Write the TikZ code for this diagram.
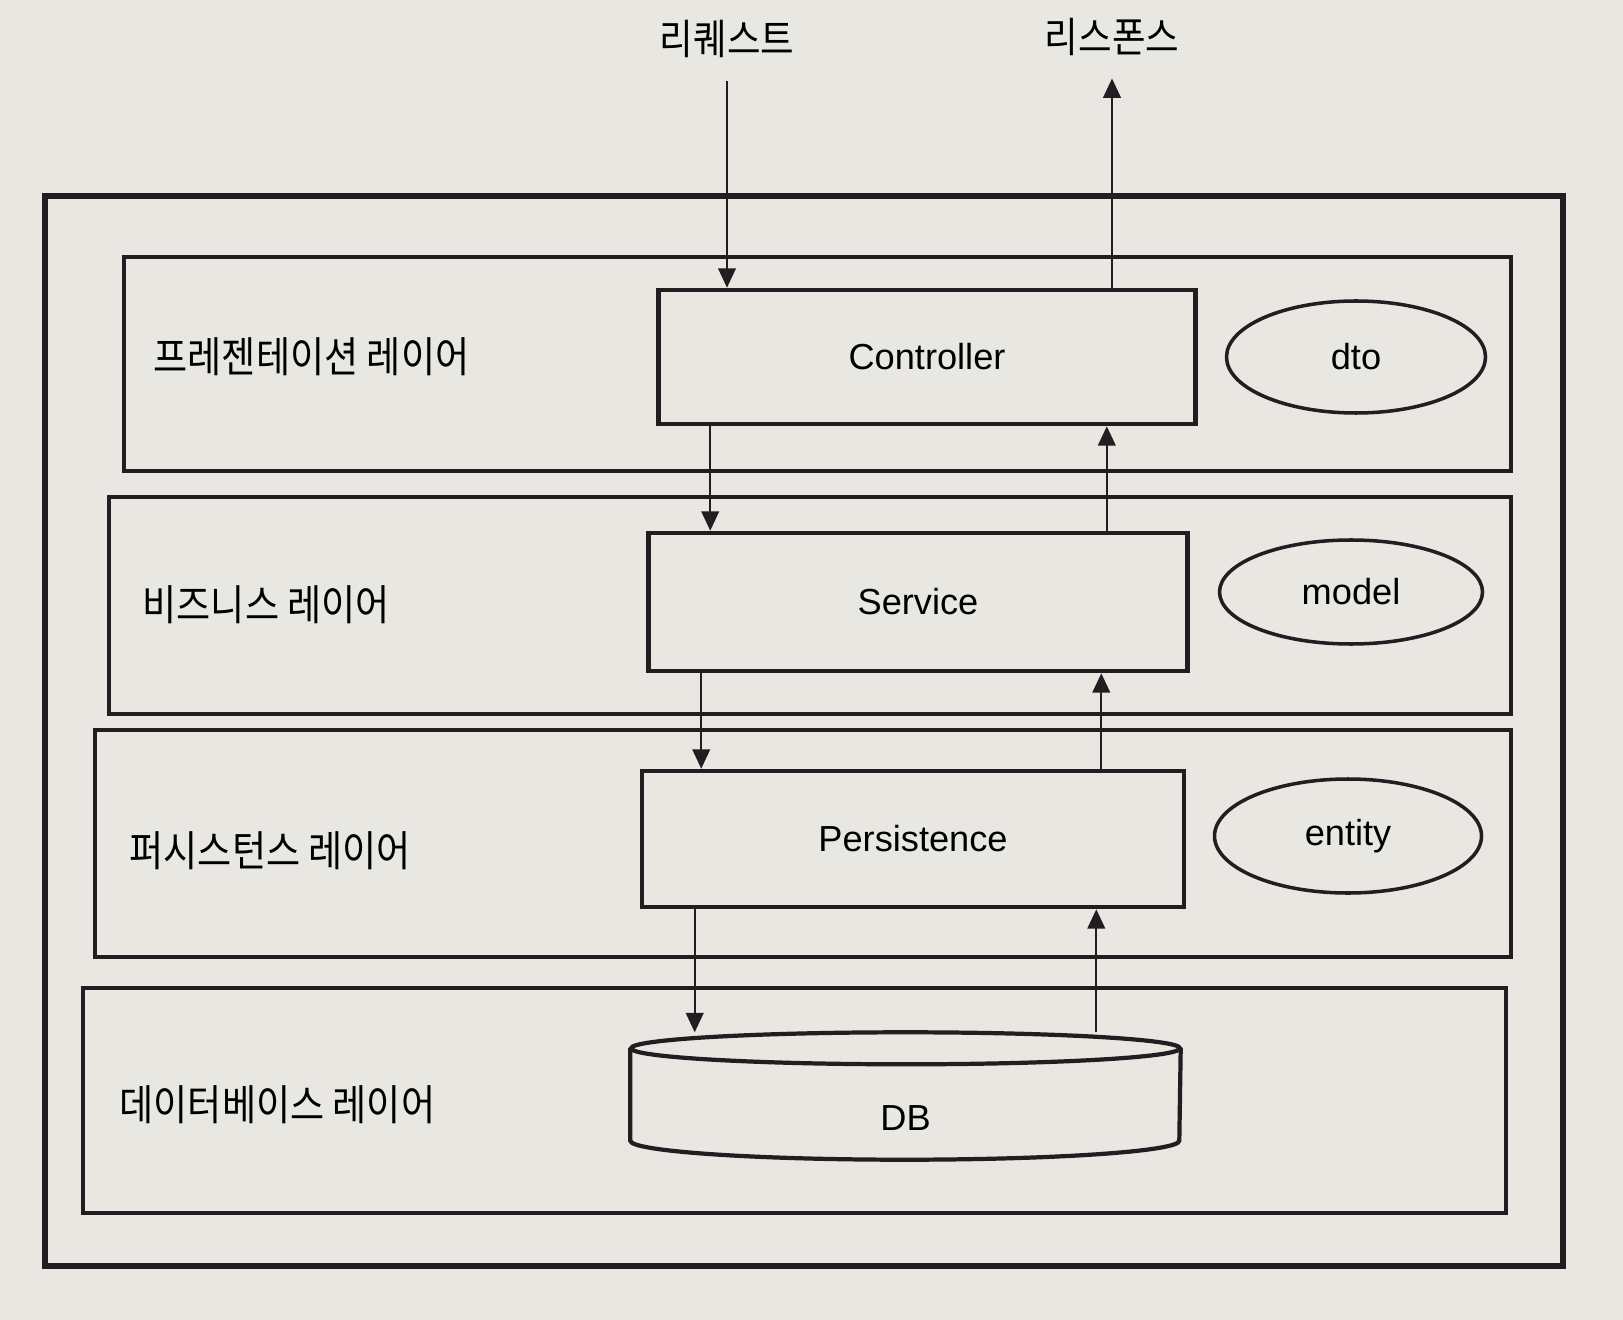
\documentclass[tikz,border=0pt]{standalone}
\usepackage{fontspec}
\setmainfont{Liberation Sans}
\newfontfamily\kr[FakeStretch=0.88]{Noto Sans CJK KR}
\usetikzlibrary{arrows.meta, shapes.geometric}
\definecolor{paper}{RGB}{233,231,226}
\definecolor{ink}{RGB}{32,30,32}

\begin{document}
\begin{tikzpicture}[>={Triangle[length=5.5pt,width=5pt]},
                    layer/.style={draw=ink, line width=1.1pt, inner sep=0pt},
                    comp/.style={draw=ink, line width=1.3pt, inner sep=0pt,
                                 font=\fontsize{10.3}{12}\selectfont},
                    data/.style={ellipse, draw=ink, line width=1pt, inner sep=0pt,
                                 font=\fontsize{10.3}{12}\selectfont},
                    lbl/.style={anchor=west, inner sep=0pt, font=\kr\fontsize{12}{14}\selectfont},
                    io/.style={inner sep=0pt, font=\kr\fontsize{11.8}{14}\selectfont},
                    arr/.style={->, draw=ink, line width=0.6pt}]
                \fill[paper] (0,0) rectangle (16.23,-13.20);
                \useasboundingbox (0,0) rectangle (16.23,-13.20);

                % frame and layers
                \node[layer, line width=1.5pt, minimum width=15.18cm, minimum height=10.70cm] (frame) at (8.04,-7.31) {};
                \node[layer, minimum width=13.87cm, minimum height=2.14cm] (pres) at (8.175,-3.64) {};
                \node[layer, minimum width=14.02cm, minimum height=2.17cm] (biz) at (8.10,-6.055) {};
                \node[layer, minimum width=14.16cm, minimum height=2.27cm] (persLayer) at (8.03,-8.435) {};
                \node[layer, minimum width=14.23cm, minimum height=2.25cm] (dbLayer) at (7.945,-11.005) {};

                \node[lbl] (presLbl) at (1.53,-3.57) {프레젠테이션 레이어};
                \node[lbl] (bizLbl) at (1.42,-6.05) {비즈니스 레이어};
                \node[lbl] (persLbl) at (1.29,-8.51) {퍼시스턴스 레이어};
                \node[lbl] (dbLayerLbl) at (1.19,-11.05) {데이터베이스 레이어};

                % components
                \node[comp, minimum width=5.37cm, minimum height=1.34cm] (ctrl) at (9.27,-3.57) {Controller};
                \node[comp, minimum width=5.39cm, minimum height=1.38cm] (svc) at (9.18,-6.02) {Service};
                \node[comp, minimum width=5.42cm, minimum height=1.36cm] (pers) at (9.13,-8.39) {Persistence};

                \node[data, minimum width=2.59cm, minimum height=1.12cm] (dto) at (13.56,-3.57) {dto};
                \node[data, minimum width=2.63cm, minimum height=1.04cm] (model) at (13.51,-5.92) {model};
                \node[data, minimum width=2.67cm, minimum height=1.14cm] (entity) at (13.48,-8.36) {entity};

                % database cylinder
                \node[inner sep=0pt, minimum width=5.49cm, minimum height=1.26cm] (db) at (9.055,-10.96) {};
                \node[inner sep=0pt, font=\fontsize{10.3}{12}\selectfont] (dbTxt) at ([yshift=-2.2mm]db.center) {DB};
                \draw[ink, line width=1.2pt] ([yshift=-1.6mm]db.north) ellipse [x radius=2.745, y radius=0.16];
                \draw[ink, line width=1.2pt] ([yshift=-1.6mm]db.north west) -- ([yshift=1.9mm]db.south west)
                    arc [start angle=180, end angle=360, x radius=2.745, y radius=0.19]
                    -- ([yshift=-1.6mm]db.north east);

                % request and response
                \node[io] (req) at (7.27,-0.39) {리퀘스트};
                \node[io] (resp) at (11.12,-0.37) {리스폰스};

                \coordinate (d1) at ([xshift=5.4mm]ctrl.south west);
                \coordinate (d2) at ([xshift=5.5mm]svc.south west);
                \coordinate (d3) at ([xshift=5.5mm]pers.south west);
                \coordinate (u1) at ([xshift=-8.3mm]svc.north east);
                \coordinate (u2) at ([xshift=-8.5mm]pers.north east);
                \coordinate (u3) at ([xshift=-9mm]pers.south east);

                \draw[arr] ([yshift=-2.3mm]req.south) -- (req.south |- ctrl.north);
                \draw[arr] (resp.south |- ctrl.north) -- ([yshift=-2.2mm]resp.south);
                \draw[arr] (d1) -- (d1 |- svc.north);
                \draw[arr] (d2) -- (d2 |- pers.north);
                \draw[arr] (d3) -- (d3 |- db.north);
                \draw[arr] (u1) -- (u1 |- ctrl.south);
                \draw[arr] (u2) -- (u2 |- svc.south);
                \draw[arr] (u3 |- db.north) -- (u3);
\end{tikzpicture}
\end{document}
